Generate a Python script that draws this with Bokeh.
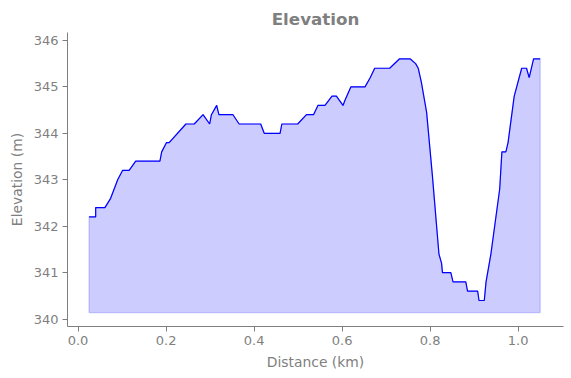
from bokeh.plotting import figure
from bokeh.models import Range1d, FixedTicker, NumeralTickFormatter
from bokeh.embed import file_html
from bokeh.resources import INLINE

# Distance along the track (km) and elevation (m)
distance_km = [0.025, 0.040, 0.040, 0.061, 0.074, 0.090, 0.101, 0.116, 0.131, 0.186,
               0.190, 0.201, 0.207, 0.245, 0.264, 0.284, 0.299, 0.303, 0.315, 0.320,
               0.352, 0.366, 0.415, 0.423, 0.459, 0.463, 0.499, 0.519, 0.535, 0.545,
               0.561, 0.577, 0.587, 0.602, 0.606, 0.620, 0.652, 0.664, 0.674, 0.708,
               0.730, 0.755, 0.767, 0.773, 0.780, 0.792, 0.805, 0.820, 0.826, 0.828,
               0.847, 0.852, 0.881, 0.885, 0.908, 0.911, 0.923, 0.927, 0.938, 0.958,
               0.963, 0.972, 0.977, 0.991, 1.008, 1.019, 1.025, 1.035, 1.050]
elevation_m = [342.2, 342.2, 342.4, 342.4, 342.6, 343.0, 343.2, 343.2, 343.4, 343.4,
               343.6, 343.8, 343.8, 344.2, 344.2, 344.4, 344.2, 344.4, 344.6, 344.4,
               344.4, 344.2, 344.2, 344.0, 344.0, 344.2, 344.2, 344.4, 344.4, 344.6,
               344.6, 344.8, 344.8, 344.6, 344.7, 345.0, 345.0, 345.2, 345.4, 345.4,
               345.6, 345.6, 345.5, 345.4, 345.1, 344.45, 343.1, 341.4, 341.2, 341.0,
               341.0, 340.8, 340.8, 340.6, 340.6, 340.4, 340.4, 340.8, 341.4, 342.8,
               343.6, 343.6, 343.8, 344.8, 345.4, 345.4, 345.2, 345.6, 345.6]
fill_base = 340.14

x_ticks = [0.0, 0.2, 0.4, 0.6, 0.8, 1.0]
y_ticks = [340, 341, 342, 343, 344, 345, 346]

GRAY = "#7f7f7f"
FONT = "DejaVu Sans"

p = figure(width=571, height=378, output_backend="svg", toolbar_location=None,
           x_range=Range1d(-0.024, 1.103), y_range=Range1d(339.84, 346.17),
           min_border_left=67, min_border_right=8, min_border_top=32,
           min_border_bottom=52, background_fill_color="white",
           border_fill_color="white")
p.outline_line_color = None
p.xgrid.visible = False
p.ygrid.visible = False

# filled area
px = list(distance_km) + list(reversed(distance_km))
py = list(elevation_m) + [fill_base] * len(distance_km)
p.patch(px, py, fill_color="blue", fill_alpha=0.2, line_color="blue",
        line_alpha=0.2, line_width=1.2)
p.line(distance_km, elevation_m, line_color="blue", line_width=1.2)

p.title.text = "Elevation"
p.title.align = "center"
p.title.text_font = FONT
p.title.text_font_size = "16.7px"
p.title.text_font_style = "bold"
p.title.text_color = GRAY
p.title.offset = 0
p.title.standoff = 8

p.xaxis.ticker = FixedTicker(ticks=x_ticks)
p.xaxis.formatter = NumeralTickFormatter(format="0.0")
p.yaxis.ticker = FixedTicker(ticks=y_ticks)
p.xaxis.axis_label = "Distance (km)"
p.yaxis.axis_label = "Elevation (m)"

for ax in (p.xaxis, p.yaxis):
    ax.axis_line_color = GRAY
    ax.axis_line_width = 1
    ax.major_tick_line_color = GRAY
    ax.major_tick_out = 5
    ax.major_tick_in = 0
    ax.minor_tick_line_color = None
    ax.major_label_text_color = GRAY
    ax.major_label_text_font = FONT
    ax.major_label_text_font_size = "13px"
    ax.axis_label_text_color = GRAY
    ax.axis_label_text_font = FONT
    ax.axis_label_text_font_size = "13.9px"
    ax.axis_label_text_font_style = "normal"
    ax.major_label_standoff = 4
    ax.axis_label_standoff = 6

open("out.html", "w").write(file_html(p, INLINE))
